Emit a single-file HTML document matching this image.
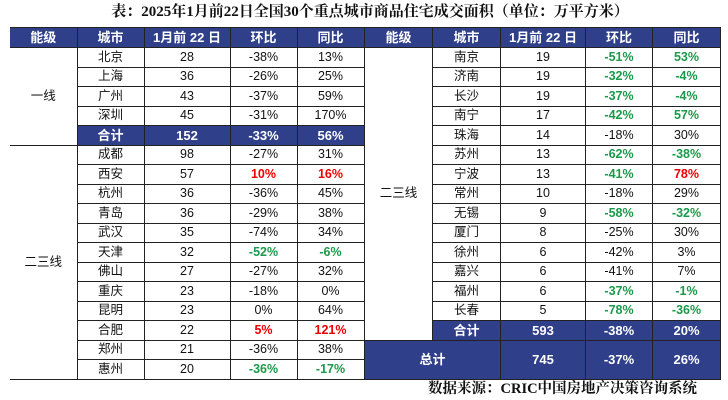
<!DOCTYPE html>
<html><head><meta charset="utf-8"><style>
body{margin:0;width:728px;height:400px;background:#fff;position:relative;overflow:hidden;font-family:"Liberation Sans","Noto Sans CJK SC",sans-serif;}
.title{position:absolute;top:2px;left:0;width:740px;text-align:center;font-family:"Liberation Serif","Noto Serif CJK SC",serif;font-weight:bold;font-size:15px;color:#111;line-height:20px}
.src{position:absolute;top:380px;left:428px;font-family:"Liberation Serif","Noto Serif CJK SC",serif;font-weight:bold;font-size:14.5px;color:#111;line-height:18px}
table{position:absolute;border-collapse:collapse;table-layout:fixed;font-size:12.5px;color:#111;}
td{border:1px solid #222;text-align:center;padding:0;overflow:hidden;white-space:nowrap;line-height:13px}
tr{height:19.5px}
.h td,td.h{background:#2f3f8a;color:#fff;font-weight:bold;font-size:13px;}
.g{color:#1a9a4a;font-weight:bold}
.r{color:#e00;font-weight:bold}
.nl{border-left:none}
</style></head><body>
<div class="title">表：2025年1月前22日全国30个重点城市商品住宅成交面积（单位：万平方米）</div>
<table style="left:10px;top:27px;width:354px">
<colgroup><col style="width:67px"><col style="width:67px"><col style="width:86px"><col style="width:67px"><col style="width:67px"></colgroup>
<tr class="h" style="height:20px"><td class="nl">能级</td><td>城市</td><td>1月前 22 日</td><td>环比</td><td>同比</td></tr>
<tr><td rowspan="5" class="nl">一线</td><td>北京</td><td>28</td><td>-38%</td><td>13%</td></tr>
<tr><td>上海</td><td>36</td><td>-26%</td><td>25%</td></tr>
<tr><td>广州</td><td>43</td><td>-37%</td><td>59%</td></tr>
<tr><td>深圳</td><td>45</td><td>-31%</td><td>170%</td></tr>
<tr class="h"><td>合计</td><td>152</td><td>-33%</td><td>56%</td></tr>
<tr><td rowspan="12" class="nl">二三线</td><td>成都</td><td>98</td><td>-27%</td><td>31%</td></tr>
<tr><td>西安</td><td>57</td><td class="r">10%</td><td class="r">16%</td></tr>
<tr><td>杭州</td><td>36</td><td>-36%</td><td>45%</td></tr>
<tr><td>青岛</td><td>36</td><td>-29%</td><td>38%</td></tr>
<tr><td>武汉</td><td>35</td><td>-74%</td><td>34%</td></tr>
<tr><td>天津</td><td>32</td><td class="g">-52%</td><td class="g">-6%</td></tr>
<tr><td>佛山</td><td>27</td><td>-27%</td><td>32%</td></tr>
<tr><td>重庆</td><td>23</td><td>-18%</td><td>0%</td></tr>
<tr><td>昆明</td><td>23</td><td>0%</td><td>64%</td></tr>
<tr><td>合肥</td><td>22</td><td class="r">5%</td><td class="r">121%</td></tr>
<tr><td>郑州</td><td>21</td><td>-36%</td><td>38%</td></tr>
<tr><td>惠州</td><td>20</td><td class="g">-36%</td><td class="g">-17%</td></tr>
</table>
<table style="left:364px;top:27px;width:356px">
<colgroup><col style="width:68px"><col style="width:68px"><col style="width:85px"><col style="width:67px"><col style="width:68px"></colgroup>
<tr class="h" style="height:20px"><td>能级</td><td>城市</td><td>1月前 22 日</td><td>环比</td><td>同比</td></tr>
<tr><td rowspan="15">二三线</td><td>南京</td><td>19</td><td class="g">-51%</td><td class="g">53%</td></tr>
<tr><td>济南</td><td>19</td><td class="g">-32%</td><td class="g">-4%</td></tr>
<tr><td>长沙</td><td>19</td><td class="g">-37%</td><td class="g">-4%</td></tr>
<tr><td>南宁</td><td>17</td><td class="g">-42%</td><td class="g">57%</td></tr>
<tr><td>珠海</td><td>14</td><td>-18%</td><td>30%</td></tr>
<tr><td>苏州</td><td>13</td><td class="g">-62%</td><td class="g">-38%</td></tr>
<tr><td>宁波</td><td>13</td><td class="g">-41%</td><td class="r">78%</td></tr>
<tr><td>常州</td><td>10</td><td>-18%</td><td>29%</td></tr>
<tr><td>无锡</td><td>9</td><td class="g">-58%</td><td class="g">-32%</td></tr>
<tr><td>厦门</td><td>8</td><td>-25%</td><td>30%</td></tr>
<tr><td>徐州</td><td>6</td><td>-42%</td><td>3%</td></tr>
<tr><td>嘉兴</td><td>6</td><td>-41%</td><td>7%</td></tr>
<tr><td>福州</td><td>6</td><td class="g">-37%</td><td class="g">-1%</td></tr>
<tr><td>长春</td><td>5</td><td class="g">-78%</td><td class="g">-36%</td></tr>
<tr class="h"><td>合计</td><td>593</td><td>-38%</td><td>20%</td></tr>
<tr class="h" style="height:39px"><td colspan="2">总计</td><td>745</td><td>-37%</td><td>26%</td></tr>
</table>
<div class="src">数据来源：CRIC中国房地产决策咨询系统</div>
</body></html>
